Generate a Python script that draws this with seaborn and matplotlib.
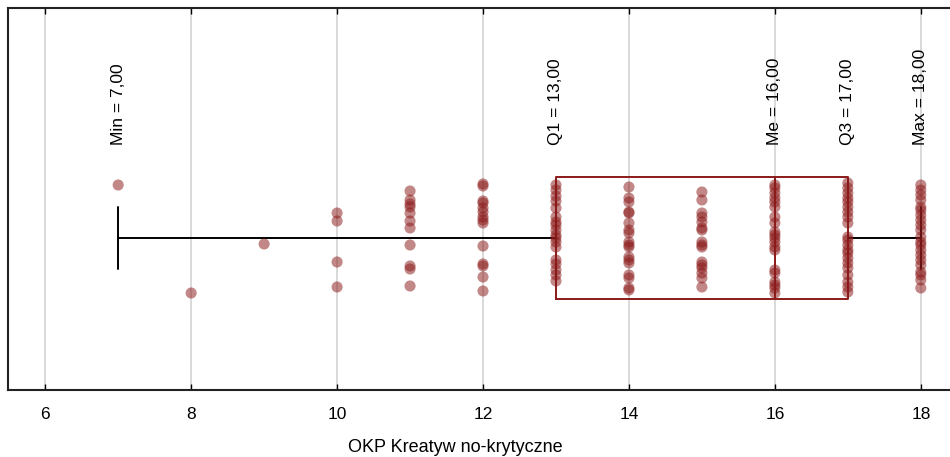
import matplotlib
matplotlib.use("Agg")
import matplotlib.pyplot as plt
import seaborn as sns
import pandas as pd

# ---- data ----
# vertical jitter offsets (display units, centre = 0) for each score
jit_7 = [53]
jit_8 = [-55]
jit_9 = [-6]
jit_10 = [25, 17, -24, -49]
jit_11 = [47, 38, 34, 31, 25, 17, 10, -7, -28, -31, -48]
jit_12 = [54, 52, 37, 35, 30, 26, 21, 18, 15, -8, -26, -28, -39, -53]
jit_13 = [53, 48, 42, 37, 30, 21, 16, 13, 8, 3, 0, -4, -9, -22, -26, -32, -37, -43]
jit_14 = [51, 40, 36, 26, 25, 15, 8, 5, -4, -7, -9, -19, -22, -25, -37, -40, -50, -52]
jit_15 = [46, 38, 25, 21, 16, 10, 8, -4, -7, -9, -24, -27, -30, -35, -40, -49]
jit_16 = [53, 50, 45, 40, 36, 31, 21, 15, 6, 3, 0, -4, -9, -12, -32, -35, -44, -47, -50, -55]
jit_17 = [55, 50, 45, 40, 36, 31, 26, 21, 15, 1, -2, -7, -12, -15, -20, -25, -30, -37, -44, -49, -54]
jit_18 = [53, 48, 43, 38, 31, 28, 23, 18, 13, 8, 1, -4, -7, -12, -17, -22, -27, -34, -37, -42, -50]

scores = [7, 8, 9, 10, 11, 12, 13, 14, 15, 16, 17, 18]
jitters = [jit_7, jit_8, jit_9, jit_10, jit_11, jit_12, jit_13, jit_14,
           jit_15, jit_16, jit_17, jit_18]

# summary statistics shown on the chart
stat_names = ["Min", "Q1", "Me", "Q3", "Max"]
stat_values = [7.0, 13.0, 16.0, 17.0, 18.0]

xlabel = "OKP Kreatyw no-krytyczne"
xticks = [6, 8, 10, 12, 14, 16, 18]

rows = []
for s, js in zip(scores, jitters):
    for j in js:
        rows.append({"score": s, "jit": j})
df = pd.DataFrame(rows)

# ---- figure ----
sns.set_style("white")
plt.rcParams["font.family"] = ["Liberation Sans", "DejaVu Sans"]
plt.rcParams["text.color"] = "black"
plt.rcParams["axes.labelcolor"] = "black"
plt.rcParams["xtick.color"] = "black"

fig = plt.figure(figsize=(9.5, 4.57), dpi=100)
ax = fig.add_axes([8 / 950, 67 / 457, 942 / 950, 382 / 457])

red = "#8B1A1A"

# points
sns.scatterplot(data=df, x="score", y="jit", ax=ax, color=red, alpha=0.52,
                s=64, edgecolor="none", zorder=3, legend=False)

# box & whiskers from given stats
mn, q1, me, q3, mx = stat_values
bstats = [{"med": me, "q1": q1, "q3": q3, "whislo": mn, "whishi": mx, "fliers": []}]
ax.bxp(bstats, positions=[0], widths=[122], vert=False, capwidths=[62],
       showfliers=False, manage_ticks=False,
       boxprops=dict(color=red, linewidth=1.4),
       medianprops=dict(color=red, linewidth=1.4),
       whiskerprops=dict(color="black", linewidth=1.4),
       capprops=dict(color="black", linewidth=1.4))

# annotations
for name, v in zip(stat_names, stat_values):
    ax.text(v, 93, f"{name} = {v:.2f}".replace(".", ","), rotation=90,
            ha="center", va="bottom", fontsize=12.5, color="black")

ax.set_xlim(5.49, 18.40)
ax.set_ylim(-152, 230)
ax.set_xticks(xticks)
ax.set_yticks([])
ax.set_ylabel("")
ax.set_xlabel(xlabel, fontsize=13)
ax.xaxis.set_label_coords((455 - 8) / 942, (390 - 447) / 382)
ax.xaxis.label.set_va("center")
ax.tick_params(axis="x", direction="in", top=True, bottom=True, length=4,
               width=1, labelsize=12.5, pad=12, color="black", labelcolor="black")
ax.grid(axis="x", color="#d3d3d3", linewidth=1.2)
ax.set_axisbelow(True)
for side in ["left", "top", "bottom"]:
    ax.spines[side].set_color("#222222")
    ax.spines[side].set_linewidth(1.5)
ax.spines["right"].set_visible(False)

fig.savefig("out.png", dpi=100)
